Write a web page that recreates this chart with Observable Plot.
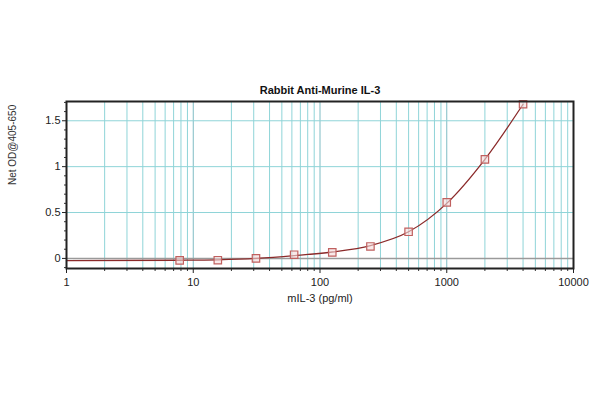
<!DOCTYPE html>
<html>
<head>
<meta charset="utf-8">
<script src="https://cdn.jsdelivr.net/npm/d3@7"></script>
<script src="https://cdn.jsdelivr.net/npm/@observablehq/plot@0.6"></script>
<style>
  html, body { margin: 0; padding: 0; background: #fff; }
  #chart svg { display: block; }
</style>
</head>
<body>
<div id="chart"></div>
<script>
// Data
const conc = [7.8125, 15.625, 31.25, 62.5, 125, 250, 500, 1000, 2000, 4000];
const od = [-0.022, -0.02, 0.0, 0.04, 0.065, 0.13, 0.29, 0.61, 1.08, 1.68];
// fitted curve
const fitConc = [1, 7.8125, 15.625, 31.25, 62.5, 125, 250, 500, 1000, 2000, 4000];
const fitOd = [-0.025, -0.02, -0.015, 0.0, 0.03, 0.07, 0.14, 0.29, 0.6, 1.08, 1.68];

const xMajor = [1, 10, 100, 1000, 10000];
const xMinor = [2,3,4,5,6,7,8,9,20,30,40,50,60,70,80,90,200,300,400,500,600,700,800,900,2000,3000,4000,5000,6000,7000,8000,9000];
const yTicks = [0, 0.5, 1, 1.5];
const yGrid = [0.5, 1, 1.5];
const yMinor = [-0.1, 0.1, 0.2, 0.3, 0.4, 0.6, 0.7, 0.8, 0.9, 1.1, 1.2, 1.3, 1.4, 1.6, 1.7];

const title = "Rabbit Anti-Murine IL-3";
const xLabel = "mIL-3 (pg/ml)";
const yLabel = "Net OD@405-650";

const pts = conc.map((c, i) => ({c, v: od[i]}));
const fit = fitConc.map((c, i) => ({c, v: fitOd[i]}));

const chart = Plot.plot({
  width: 600,
  height: 400,
  marginLeft: 66,
  marginRight: 27,
  marginTop: 101,
  marginBottom: 132,
  style: {fontFamily: "'Liberation Sans', Arial, sans-serif", fontSize: "11px", color: "#222", background: "#fff"},
  x: {type: "log", domain: [1, 10000]},
  y: {domain: [-0.11, 1.71]},
  marks: [
    Plot.ruleX(xMinor, {stroke: "#8fd4d8", strokeWidth: 1}),
    Plot.ruleX(xMajor.slice(1, 4), {stroke: "#7fbcc4", strokeWidth: 1}),
    Plot.ruleY(yGrid, {stroke: "#8fd4d8", strokeWidth: 1}),
    Plot.ruleY([0], {stroke: "#9a9a9a", strokeWidth: 1.5}),
    Plot.axisX(xMinor, {tickSize: 3, tickFormat: () => "", stroke: "#333", label: null}),
    Plot.axisX(xMajor, {tickSize: 5, tickPadding: 5, tickFormat: d => String(d), fontSize: 11, label: null}),
    Plot.axisY(yMinor, {tickSize: 2, tickFormat: () => "", stroke: "#333", label: null}),
    Plot.axisY(yTicks, {tickSize: 4, tickPadding: 2, tickFormat: d => String(d), fontSize: 11, label: null}),
    Plot.line(fit, {x: "c", y: "v", stroke: "#8b2a2a", strokeWidth: 1.3, curve: "monotone-x"}),
    Plot.dot(pts, {x: "c", y: "v", symbol: "square", r: 4.2, stroke: "#c0605f", strokeWidth: 1.2, fill: "#f5dada", fillOpacity: 0.6}),
    Plot.frame({stroke: "#222", strokeWidth: 2}),
    Plot.text([title], {frameAnchor: "top", dy: -15, fontWeight: "bold", fontSize: 11, fill: "#111"}),
    Plot.text([xLabel], {frameAnchor: "bottom", dy: 33, fontSize: 11, fill: "#222"}),
    Plot.text([yLabel], {frameAnchor: "left", dx: -54, rotate: -90, fontSize: 10, fill: "#333"})
  ]
});
document.getElementById("chart").append(chart);
</script>
</body>
</html>
